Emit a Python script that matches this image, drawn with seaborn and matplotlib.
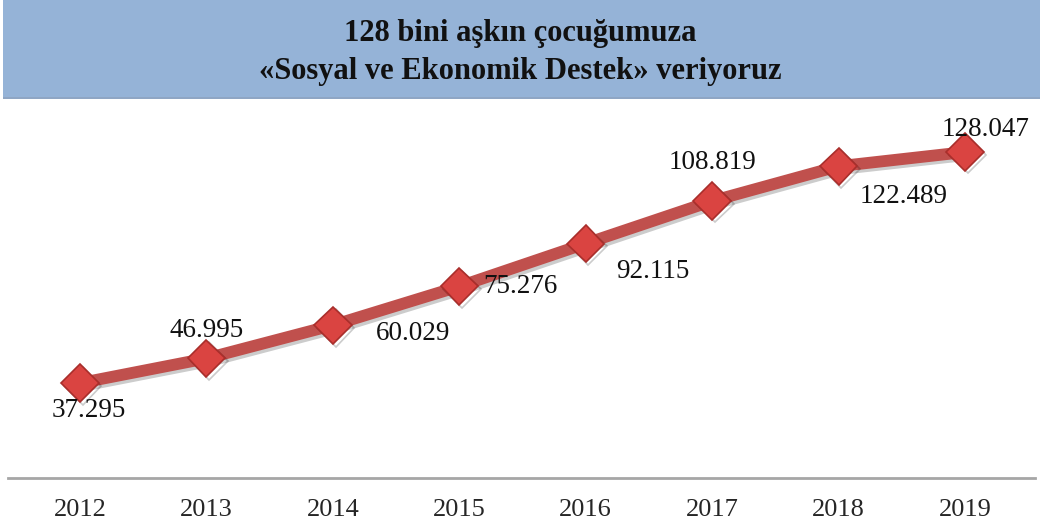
import numpy as np
import pandas as pd
import matplotlib
matplotlib.use("Agg")
import matplotlib.pyplot as plt
import matplotlib.patheffects as pe
from matplotlib.patches import Rectangle
import seaborn as sns

# chart data
years = ["2012", "2013", "2014", "2015", "2016", "2017", "2018", "2019"]
children = [37295, 46995, 60029, 75276, 92115, 108819, 122489, 128047]
value_labels = ["37.295", "46.995", "60.029", "75.276", "92.115", "108.819", "122.489", "128.047"]
title_lines = ["128 bini aşkın çocuğumuza", "«Sosyal ve Ekonomik Destek» veriyoruz"]

sns.set_style("white")
plt.rcParams['font.family'] = ['Liberation Serif', 'DejaVu Serif']

W, H = 1040, 521
fig = plt.figure(figsize=(W / 100, H / 100), dpi=100)

# title band
fig.patches.append(Rectangle((3 / W, 1 - 97 / H), 1 - 3 / W, 97 / H,
                             transform=fig.transFigure, facecolor="#95B3D7",
                             edgecolor="none", zorder=0))
fig.patches.append(Rectangle((3 / W, 1 - 99 / H), 1 - 3 / W, 2 / H,
                             transform=fig.transFigure, facecolor="#8FA6C4",
                             edgecolor="none", zorder=0))
fig.text(0.5, 1 - 34 / H, title_lines[0], ha="center", va="center",
         fontsize=22, fontweight="bold", color="#111111")
fig.text(0.5, 1 - 71 / H, title_lines[1], ha="center", va="center",
         fontsize=22, fontweight="bold", color="#111111")

# plotting area
ax = fig.add_axes([8 / W, 1 - 478 / H, (1035 - 8) / W, (478 - 100) / H])
df = pd.DataFrame({"x": np.arange(len(years)), "value": children})
sns.lineplot(data=df, x="x", y="value", ax=ax, color="#C0504D", linewidth=8.5,
             marker="D", markersize=19, markerfacecolor="#DA4441",
             markeredgecolor="#A92E2B", markeredgewidth=1.2,
             path_effects=[pe.SimpleLineShadow(offset=(2, -2), alpha=0.2), pe.Normal()])

ax.set_xlim(-0.57, 7.554)
ax.set_ylim(0, 148500)
ax.set_xticks(range(len(years)))
ax.set_xticklabels(years, fontsize=19)
ax.tick_params(axis="x", length=0, pad=15)
ax.set_yticks([])
ax.set_xlabel("")
ax.set_ylabel("")
for s in ["top", "left", "right"]:
    ax.spines[s].set_visible(False)
ax.spines["bottom"].set_color("#A6A6A6")
ax.spines["bottom"].set_linewidth(2)
ax.patch.set_alpha(0)

# label offsets in points (dx, dy)
offsets = [(6, -20), (0, 20), (58, -6), (44, 0), (48, -20), (0, 28), (47, -22), (15, 16)]
for i, (lab, off) in enumerate(zip(value_labels, offsets)):
    ax.annotate(lab, (i, children[i]), xytext=off, textcoords="offset points",
                ha="center", va="center", fontsize=19.5, color="#111111")

fig.savefig("out.png", dpi=100)
